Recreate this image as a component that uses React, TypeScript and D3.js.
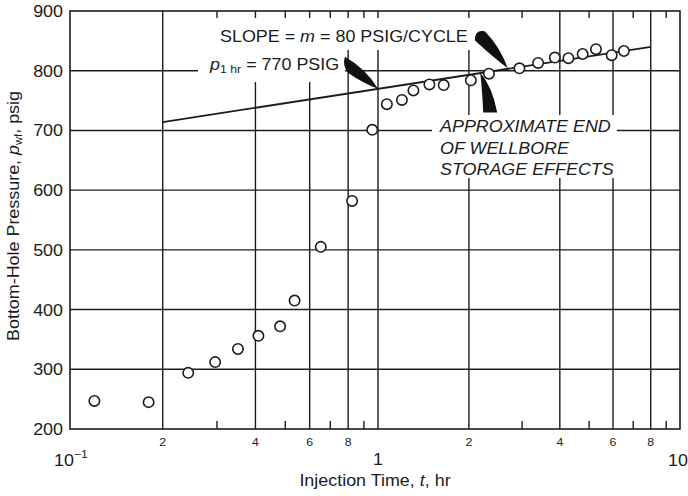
import React from "react";
import * as d3 from "d3";

// ---- data ----
const timeHr = [0.12, 0.18, 0.242, 0.296, 0.351, 0.409, 0.481, 0.536, 0.652, 0.824, 0.958, 1.07, 1.2, 1.31, 1.48, 1.65, 2.03, 2.33, 2.94, 3.39, 3.85, 4.27, 4.76, 5.27, 5.94, 6.52];
const pressure = [247, 245, 294, 312, 334, 356, 372, 415, 505, 582, 701, 744, 751, 767, 777, 776, 784, 795, 804, 813, 822, 821, 828, 836, 826, 833];
const fitT = [0.2, 8];
const fitP = [714, 840];
const yTicks = [200, 300, 400, 500, 600, 700, 800, 900];
const xMajorGrid = [0.2, 0.4, 0.6, 0.8, 1, 2, 4, 6, 8];
const xMinorTicks = [0.3, 0.5, 0.7, 0.9, 3, 5, 7, 9];
const xSmallLabels = [0.2, 0.4, 0.6, 0.8, 2, 4, 6, 8];
const p1hr = 770;

const W = 688, H = 496;
const SX = 1.12;
const FONT = "'Liberation Sans', Arial, Helvetica, sans-serif";
const INK = "#1c1c1c";

const x = d3.scaleLog().domain([0.1, 1, 10]).range([70, 378, 680]);
const y = d3.scaleLinear().domain([200, 900]).range([429, 11]);

function T({ x: tx, y: ty, anchor = "start", size = 16, italic = false, rotate = 0, children }: any) {
  return (
    <text
      transform={`translate(${tx},${ty})${rotate ? ` rotate(${rotate})` : ""} scale(${SX},1)`}
      textAnchor={anchor}
      fontSize={size}
      fontStyle={italic ? "italic" : "normal"}
      fontFamily={FONT}
      fill={INK}
    >
      {children}
    </text>
  );
}

function rel(tip: [number, number]) {
  return (a: number, b: number) => `${tip[0] + a},${tip[1] + b}`;
}

export default function App() {
  const x0 = x(0.1), x1 = x(10), yTop = y(900), yBot = y(200);
  const line = d3.line<number>().x((_, i) => x(fitT[i])).y((_, i) => y(fitP[i]));

  // wedge tips on the fit line
  const a = rel([x(1), y(p1hr)]);
  const b = rel([x(2.69), y(804)]);
  const c = rel([x(2.18), y(797)]);
  const d1 = `M${a(0, 0)} Q${a(-12, -20)} ${a(-33, -32)} Q${a(-36, -24)} ${a(-30, -16)} Q${a(-16, -6)} ${a(0, 0)} Z`;
  const d2 = `M${b(0, 0)} Q${b(-16, -12)} ${b(-33, -28)} Q${b(-33, -39)} ${b(-23, -37)} Q${b(-8, -22)} ${b(0, 0)} Z`;
  const d3p = `M${c(0, 0)} Q${c(2, 18)} ${c(3, 40)} L${c(17, 40)} Q${c(12, 14)} ${c(0, 0)} Z`;

  return (
    <svg width={W} height={H} style={{ position: "absolute", left: 0, top: 0, background: "#fff" }}>
      {/* grid */}
      <g stroke={INK} strokeWidth={1.4}>
        {xMajorGrid.map((v) => (
          <line key={"vx" + v} x1={x(v)} x2={x(v)} y1={yTop} y2={yBot} />
        ))}
        {yTicks.slice(1, -1).map((v) => (
          <line key={"hy" + v} x1={x0} x2={x1} y1={y(v)} y2={y(v)} />
        ))}
        {xMinorTicks.map((v) => (
          <g key={"mt" + v}>
            <line x1={x(v)} x2={x(v)} y1={yBot} y2={yBot - 8} />
            <line x1={x(v)} x2={x(v)} y1={yTop} y2={yTop + 7} />
          </g>
        ))}
      </g>

      {/* white boxes behind annotations */}
      <g fill="#fff">
        <rect x={205} y={18} width={270} height={32} />
        <rect x={198} y={50} width={147} height={32} />
        <rect x={432} y={115} width={185} height={63} />
      </g>

      <rect x={x0} y={yTop} width={x1 - x0} height={yBot - yTop} fill="none" stroke={INK} strokeWidth={1.6} />

      {/* fit line */}
      <path d={line([0, 1]) || ""} fill="none" stroke={INK} strokeWidth={1.8} />

      {/* points */}
      <g fill="#fff" stroke={INK} strokeWidth={1.6}>
        {timeHr.map((t, i) => (
          <circle key={i} cx={x(t)} cy={y(pressure[i])} r={5.2} />
        ))}
      </g>

      {/* wedges */}
      <g fill="#111">
        <path d={d1} />
        <path d={d2} />
        <path d={d3p} />
      </g>

      {/* annotations */}
      <T x={220} y={42}>
        {"SLOPE = "}
        <tspan fontStyle="italic">m</tspan>
        {" = 80 PSIG/CYCLE"}
      </T>
      <T x={210} y={70}>
        <tspan fontStyle="italic">p</tspan>
        <tspan fontSize={11} dy={3}>{"1 hr"}</tspan>
        <tspan dy={-3}>{" = 770 PSIG"}</tspan>
      </T>
      <T x={440} y={132} italic>APPROXIMATE END</T>
      <T x={440} y={154} italic>OF WELLBORE</T>
      <T x={440} y={175} italic>STORAGE EFFECTS</T>

      {/* y tick labels */}
      {yTicks.map((v) => (
        <T key={"yl" + v} x={63} y={y(v) + 6} anchor="end">{String(v)}</T>
      ))}

      {/* x tick labels */}
      {xSmallLabels.map((v) => (
        <T key={"xl" + v} x={x(v)} y={446} anchor="middle" size={11}>{String(v < 1 ? Math.round(v * 10) : v)}</T>
      ))}
      <T x={x(0.1) + 1} y={466} anchor="middle" size={16}>
        {"10"}
        <tspan fontSize={11} dy={-8}>{"−1"}</tspan>
      </T>
      <T x={x(1)} y={465} anchor="middle" size={16}>1</T>
      <T x={x(10) - 2} y={466} anchor="middle" size={16}>10</T>

      {/* axis titles */}
      <T x={375} y={486} anchor="middle">
        {"Injection Time, "}
        <tspan fontStyle="italic">t</tspan>
        {", hr"}
      </T>
      <T x={19} y={216} anchor="middle" rotate={-90}>
        {"Bottom-Hole Pressure, "}
        <tspan fontStyle="italic">p</tspan>
        <tspan fontSize={10} dy={3}>{"wf"}</tspan>
        <tspan dy={-3}>{", psig"}</tspan>
      </T>
    </svg>
  );
}
